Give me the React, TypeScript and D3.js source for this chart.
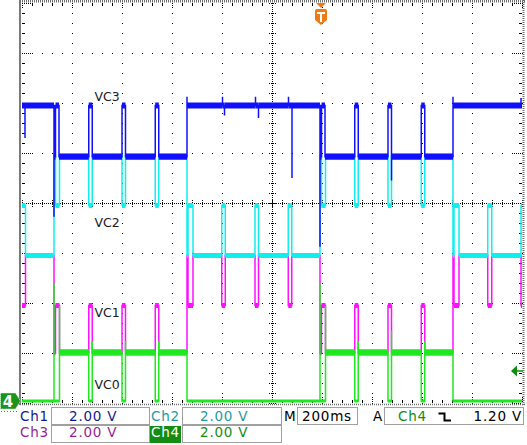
import React from 'react';
import * as d3 from 'd3';

type Pt = [number, number];

// ---- data (time in ms, level in volts) ----
const timeDomain: [number, number] = [0, 2000]; // 200 ms/div, 10 div
const divDomain: [number, number] = [-4, 4];
const voltsPerDiv = 2;

// Ch1 – VC3
const vc3Trace: Pt[] = [
  [0, 5.9], [12, 4.6], [12, 5.9],
  [128, 1.45], [128, 3.85], [134, 5.9], [148, 3.85],
  [267, 5.9], [281, 3.85],
  [400, 5.9], [414, 3.85],
  [533, 5.9], [547, 3.85],
  [660, 6.25], [660, 5.9],
  [802, 6.25], [802, 5.9], [810, 5.5], [810, 5.9],
  [934, 6.25], [934, 5.9], [946, 5.4], [946, 5.9],
  [1066, 6.25], [1066, 5.9], [1080, 3.0], [1080, 5.9],
  [1192, 0.25], [1192, 3.85], [1198, 5.9], [1212, 3.85],
  [1331, 5.9], [1345, 3.85],
  [1464, 5.9], [1478, 2.9], [1478, 3.85],
  [1597, 5.9], [1611, 3.85],
  [1724, 6.25], [1724, 5.9],
  [1996, 6.2], [1996, 5.9], [2000, 5.9],
];

// Ch2 – VC2
const vc2Trace: Pt[] = [
  [0, 3.9], [14, 1.9],
  [128, 5.9], [134, 3.9], [150, 5.9],
  [267, 3.9], [281, 5.9],
  [400, 3.9], [414, 5.9],
  [533, 3.9], [547, 5.9],
  [660, 1.9], [664, 3.9], [684, 1.9],
  [799, 3.9], [813, 1.9],
  [932, 3.9], [946, 1.9],
  [1065, 3.9], [1079, 1.9],
  [1192, 5.9], [1198, 3.9], [1214, 5.9],
  [1331, 3.9], [1345, 5.9],
  [1464, 3.9], [1478, 5.9],
  [1597, 3.9], [1611, 5.9],
  [1724, 1.9], [1728, 3.9], [1748, 1.9],
  [1863, 3.9], [1879, 1.9],
  [1996, 3.9], [2000, 3.9],
];

// Ch3 – VC1
const vc1Trace: Pt[] = [
  [0, 3.9], [14, 5.9],
  [128, 2.0], [134, 3.9], [150, 2.0],
  [267, 3.9], [281, 2.0],
  [400, 3.9], [414, 2.0],
  [533, 3.9], [547, 2.0],
  [660, 5.9], [664, 3.9], [684, 5.9],
  [799, 3.9], [813, 5.9],
  [932, 3.9], [946, 5.9],
  [1065, 3.9], [1079, 5.9],
  [1192, 2.0], [1198, 3.9], [1214, 2.0],
  [1331, 3.9], [1345, 2.0],
  [1464, 3.9], [1478, 2.0],
  [1597, 3.9], [1611, 2.0],
  [1724, 5.9], [1728, 3.9], [1748, 5.9],
  [1863, 3.9], [1879, 5.9],
  [1996, 3.9], [2000, 3.9],
];

// Ch4 – VC0
const vc0Trace: Pt[] = [
  [0, 0],
  [128, 4.7], [128, 0],
  [150, 3.8], [150, 1.95],
  [267, 0], [281, 2.4], [281, 1.95],
  [400, 0], [414, 2.4], [414, 1.95],
  [533, 0], [547, 2.4], [547, 1.95],
  [660, 0],
  [1192, 4.7], [1192, 0],
  [1214, 3.8], [1214, 1.95],
  [1331, 0], [1345, 2.4], [1345, 1.95],
  [1464, 0], [1478, 2.8], [1478, 1.95],
  [1597, 0], [1611, 2.4], [1611, 1.95],
  [1724, 0], [2000, 0],
];

const channelNames = ['Ch1', 'Ch2', 'Ch3', 'Ch4'];
const channelScales = ['2.00 V', '2.00 V', '2.00 V', '2.00 V'];
const groundDivs = [-1, -2, -4, -3.96];
const traceLabels = ['VC3', 'VC2', 'VC1', 'VC0'];
const timebase = '200ms';
const triggerSource = 'Ch4';
const triggerLevelText = '1.20 V';
const triggerTime = 1196;
const triggerLevelVolts = 1.2;

// ---- styles ----
const traceColors = ['#1010ff', '#10eef0', '#ff10ff', '#20e820'];
const readoutColors = ['#141a8c', '#1e9aa0', '#9a1e9a', '#128c12'];
const FONT = '"DejaVu Sans", Verdana, sans-serif';

const W = 527;
const H = 445;
const x = d3.scaleLinear().domain(timeDomain).range([22, 522]);
const y = d3.scaleLinear().domain(divDomain).range([403, 3]);
const yV = (ch: number, v: number) => y(groundDivs[ch] + v / voltsPerDiv);

function Trace({ data, ch, band }: { data: Pt[]; ch: number; band: (v: number) => number }) {
  const line = d3
    .line<Pt>()
    .x((d) => x(d[0]))
    .y((d) => yV(ch, d[1]))
    .curve(d3.curveStepAfter);
  const color = traceColors[ch];
  const rects: React.ReactNode[] = [];
  for (let i = 0; i < data.length - 1; i++) {
    const [t0, v] = data[i];
    const t1 = data[i + 1][0];
    if (t1 - t0 < 1) continue;
    const b = band(v);
    rects.push(
      <rect key={i} x={x(t0)} y={yV(ch, v) - b / 2} width={x(t1) - x(t0)} height={b} fill={color} />
    );
  }
  return (
    <g>
      <path d={line(data) || ''} fill="none" stroke={color} strokeWidth={1.5} />
      {rects}
    </g>
  );
}

function Graticule() {
  const majorT = d3.range(timeDomain[0], timeDomain[1] + 1, 200);
  const minorT = d3.range(timeDomain[0], timeDomain[1] + 1, 40);
  const majorD = d3.range(divDomain[0], divDomain[1] + 0.001, 1);
  const minorD = d3.range(divDomain[0], divDomain[1] + 0.001, 0.2);
  const els: React.ReactNode[] = [];
  const cx = Math.round(x(1000));
  const cy = Math.round(y(0));
  const x0 = x(timeDomain[0]);
  const x1 = x(timeDomain[1]);
  const y0 = y(divDomain[1]);
  const y1 = y(divDomain[0]);
  majorT.slice(1, -1).forEach((t, i) => {
    if (t === 1000) return;
    minorD.forEach((d, j) => {
      els.push(<rect key={`v${i}-${j}`} x={Math.round(x(t))} y={Math.round(y(d))} width={1} height={1} fill="#000" />);
    });
  });
  majorD.slice(1, -1).forEach((d, i) => {
    if (d === 0) return;
    minorT.forEach((t, j) => {
      els.push(<rect key={`h${i}-${j}`} x={Math.round(x(t))} y={Math.round(y(d))} width={1} height={1} fill="#000" />);
    });
  });
  els.push(<line key="cv" x1={cx + 0.5} x2={cx + 0.5} y1={y0} y2={y1} stroke="#000" strokeDasharray="1,1" />);
  els.push(<line key="ch" x1={x0} x2={x1} y1={cy + 0.5} y2={cy + 0.5} stroke="#000" strokeDasharray="1,1" />);
  minorD.forEach((d, j) => {
    const yy = Math.round(y(d)) + 0.5;
    els.push(<line key={`cvt${j}`} x1={cx - 3} x2={cx + 4} y1={yy} y2={yy} stroke="#000" strokeDasharray="1,1" />);
    const isMaj = Math.abs(d - Math.round(d)) < 1e-6;
    const len = isMaj ? 10 : 3;
    els.push(<line key={`le${j}`} x1={x0} x2={x0 + len} y1={yy} y2={yy} stroke="#000" strokeDasharray={isMaj ? '1,1' : undefined} />);
    els.push(<line key={`re${j}`} x1={x1 - len} x2={x1} y1={yy} y2={yy} stroke="#000" strokeDasharray={isMaj ? '1,1' : undefined} />);
  });
  minorT.forEach((t, j) => {
    const xx = Math.round(x(t)) + 0.5;
    els.push(<line key={`cht${j}`} x1={xx} x2={xx} y1={cy - 3} y2={cy + 4} stroke="#000" strokeDasharray="1,1" />);
    const isMaj = t % 200 === 0;
    const len = isMaj ? 6 : 3;
    els.push(<line key={`te${j}`} x1={xx} x2={xx} y1={y0} y2={y0 + len} stroke="#000" strokeDasharray={isMaj ? '1,1' : undefined} />);
    els.push(<line key={`be${j}`} x1={xx} x2={xx} y1={y1 - len} y2={y1} stroke="#000" strokeDasharray={isMaj ? '1,1' : undefined} />);
  });
  els.push(<line key="bl" x1={20} x2={20} y1={0} y2={405} stroke="#7a7a7a" strokeWidth={2} />);
  els.push(<line key="bt" x1={20} x2={525} y1={1.2} y2={1.2} stroke="#6e6e6e" strokeWidth={2.4} strokeDasharray="1,1" />);
  els.push(<line key="br" x1={523.5} x2={523.5} y1={0} y2={405} stroke="#6e6e6e" strokeWidth={2} strokeDasharray="1,1" />);
  els.push(<line key="bb" x1={20} x2={525} y1={404.5} y2={404.5} stroke="#6e6e6e" strokeWidth={1.5} strokeDasharray="1,1" />);
  return <g>{els}</g>;
}

function Readout() {
  const row1 = 420.5;
  const row2 = 436.5;
  const box = (k: string, bx: number, by: number, w: number) => (
    <rect key={k} x={bx + 0.5} y={by + 0.5} width={w} height={17} fill="#fff" stroke="#a0a0a0" />
  );
  return (
    <g fontFamily={FONT} fontSize={13.5} letterSpacing={0.8}>
      {box('b1', 51, 407, 98)}
      {box('b2', 182, 407, 99)}
      {box('b3', 51, 425, 98)}
      {box('b4', 182, 425, 99)}
      {box('bm', 297, 407, 60)}
      {box('ba', 384, 407, 139)}
      <text x={20} y={row1} fill={readoutColors[0]}>{channelNames[0]}</text>
      <text x={69} y={row1} fill={readoutColors[0]}>{channelScales[0]}</text>
      <text x={151} y={row1} fill={readoutColors[1]}>{channelNames[1]}</text>
      <text x={200} y={row1} fill={readoutColors[1]}>{channelScales[1]}</text>
      <text x={20} y={row2} fill={readoutColors[2]}>{channelNames[2]}</text>
      <text x={69} y={row2} fill={readoutColors[2]}>{channelScales[2]}</text>
      <rect x={150} y={426} width={31} height={17} fill={readoutColors[3]} />
      <text x={151} y={row2} fill="#fff">{channelNames[3]}</text>
      <text x={200} y={row2} fill={readoutColors[3]}>{channelScales[3]}</text>
      <text x={284} y={row1} fill="#000">M</text>
      <text x={302} y={row1} fill="#000">{timebase}</text>
      <text x={373} y={row1} fill="#000">A</text>
      <text x={398} y={row1} fill={readoutColors[3]}>{triggerSource}</text>
      <path d="M438.5,413.5 H444.5 V420.5 H451" fill="none" stroke="#000" strokeWidth={2} />
      <text x={522} y={row1} fill="#000" textAnchor="end">{triggerLevelText}</text>
    </g>
  );
}

export default function App() {
  const tx = x(triggerTime);
  const gy = yV(3, 0);
  const ly = yV(3, triggerLevelVolts);
  const labelT = 290;
  const labelDivs = [2.04, -0.48, -2.28, -3.72];
  return (
    <svg
      width={W}
      height={H}
      viewBox={`0 0 ${W} ${H}`}
      style={{ position: 'absolute', left: 0, top: 0, background: '#fff' }}
    >
      <rect x={0} y={0} width={W} height={H} fill="#fff" />
      <Graticule />
      <Trace data={vc1Trace} ch={2} band={() => 5} />
      <Trace data={vc2Trace} ch={1} band={() => 5} />
      <Trace data={vc3Trace} ch={0} band={() => 6} />
      <Trace data={vc0Trace} ch={3} band={(v) => (v < 0.5 ? 3 : 6)} />
      {traceLabels.map((l, i) => (
        <text key={l} x={x(labelT)} y={y(labelDivs[i])} fontFamily={FONT} fontSize={12.5} fill="#1a1a28">
          {l}
        </text>
      ))}
      <path d={`M${tx - 5},3 H${tx + 5} L${tx},8 Z`} fill="#f07a14" />
      <path
        d={`M${tx - 6},11 Q${tx - 6},9 ${tx - 4},9 H${tx + 4} Q${tx + 6},9 ${tx + 6},11 V20 L${tx},25 L${tx - 6},20 Z`}
        fill="#f07a14"
      />
      <path d={`M${tx - 4},13 H${tx + 4} M${tx},13 V22`} stroke="#fff" strokeWidth={2} fill="none" />
      <path d={`M511,${ly} L517,${ly - 5.5} L517,${ly + 5.5} Z`} fill="#0e8c0e" />
      <line x1={517} x2={523} y1={ly} y2={ly} stroke="#0e8c0e" strokeWidth={1.5} />
      <path d={`M0.5,${gy - 8} H15.5 L20.5,${gy} L15.5,${gy + 8} H0.5 Z`} fill="#1a941a" stroke="#d8f0d8" strokeWidth={1} strokeDasharray="1,1" />
      <text x={8} y={gy + 6} textAnchor="middle" fontFamily={FONT} fontSize={15} fontWeight="bold" fill="#fff">4</text>
      <line x1={1} x2={19} y1={gy + 10.5} y2={gy + 10.5} stroke="#b040b0" strokeDasharray="1,2" />
      <Readout />
    </svg>
  );
}
